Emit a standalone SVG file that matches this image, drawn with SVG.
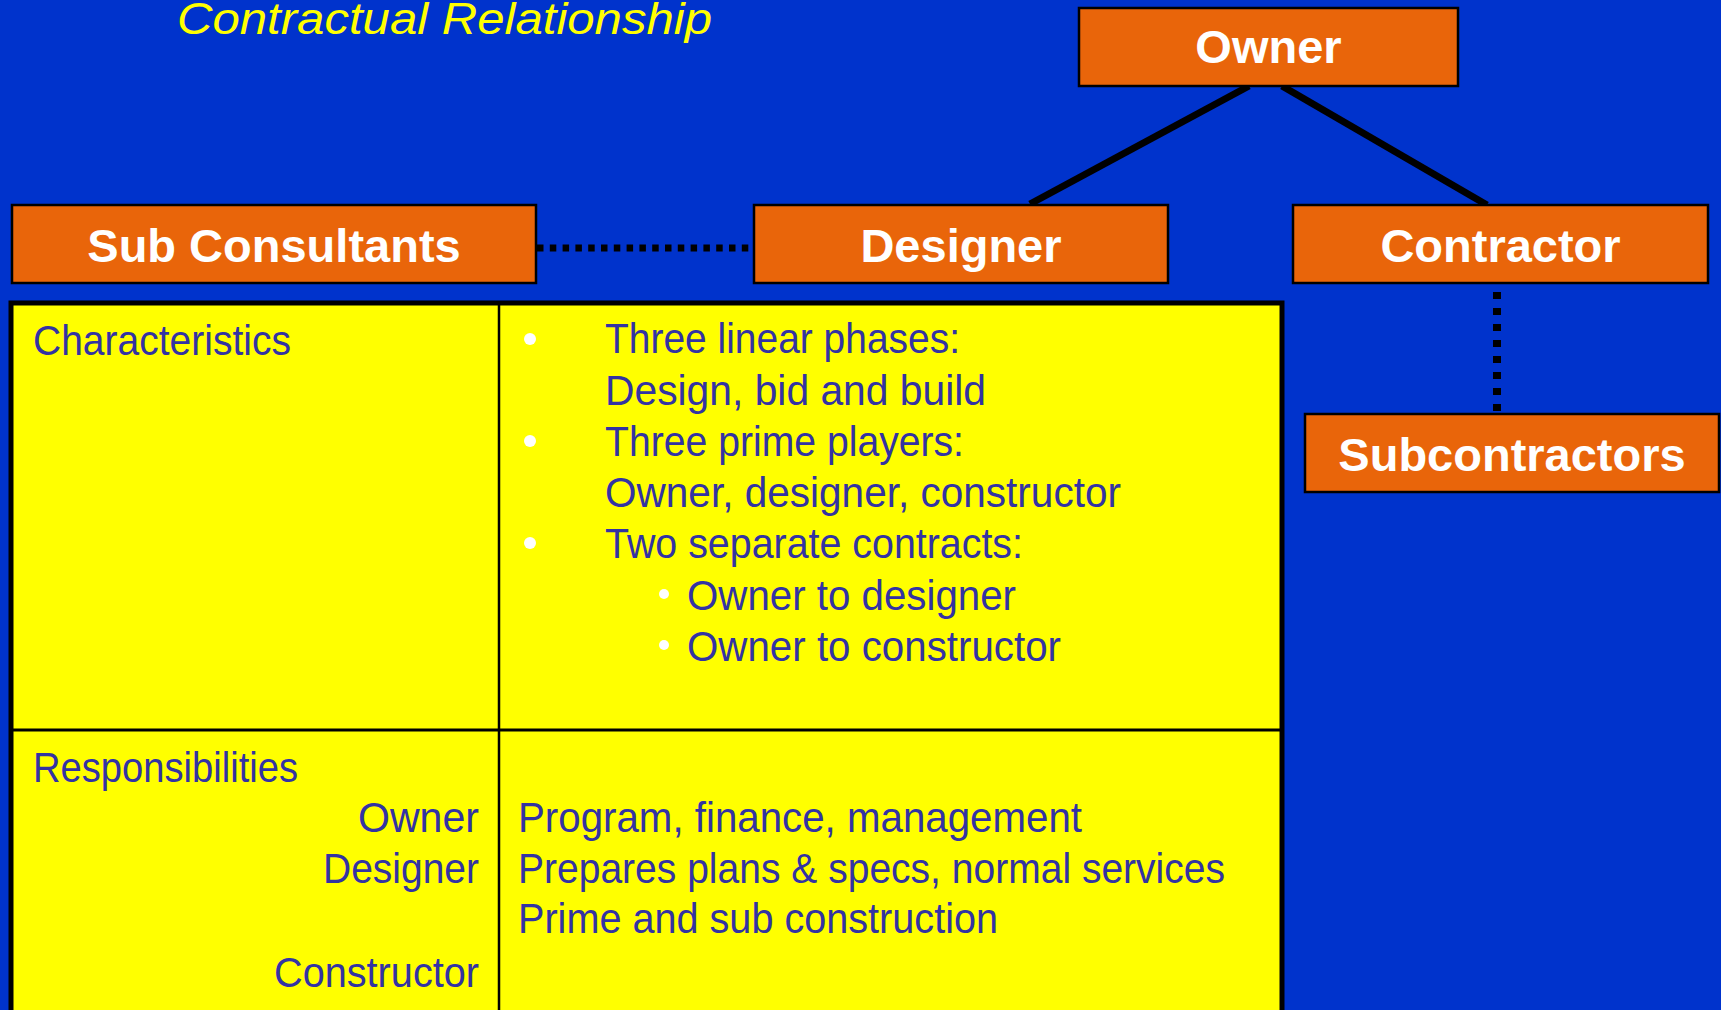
<svg xmlns="http://www.w3.org/2000/svg" width="1721" height="1010" viewBox="0 0 1721 1010">
<style>
.box{fill:#e9650a;stroke:#000;stroke-width:2.5}
.bt{font-family:"Liberation Sans",Arial,sans-serif;font-weight:bold;font-size:47px;fill:#fff;text-anchor:middle}
.tt{font-family:"Liberation Sans",Arial,sans-serif;font-size:42px;fill:#3333a3}
.solid{stroke:#000;stroke-width:7;fill:none}
.dot{stroke:#000;fill:none}
.bul{fill:#fff}
</style>
<rect x="0" y="0" width="1721" height="1010" fill="#0033cc"/>
<text x="177" y="34" font-family="'Liberation Sans',Arial,sans-serif" font-style="italic" font-size="44" fill="#ffff00" textLength="535" lengthAdjust="spacingAndGlyphs">Contractual Relationship</text>

<g id="connectors">
<line class="solid" x1="1249" y1="86" x2="1030" y2="204"/>
<line class="solid" x1="1282" y1="86" x2="1487" y2="205"/>
<line class="dot" x1="537" y1="248" x2="754" y2="248" stroke-width="7" stroke-dasharray="6.5 6.3"/>
<line class="dot" x1="1497" y1="292" x2="1497" y2="413" stroke-width="8" stroke-dasharray="7 9"/>
</g>

<g id="owner">
<rect class="box" x="1079" y="8" width="379" height="78"/>
<text class="bt" x="1268.5" y="63">Owner</text>
</g>
<g id="subconsultants">
<rect class="box" x="12" y="205" width="524" height="78"/>
<text class="bt" x="274" y="262">Sub Consultants</text>
</g>
<g id="designer">
<rect class="box" x="754" y="205" width="414" height="78"/>
<text class="bt" x="961" y="262">Designer</text>
</g>
<g id="contractor">
<rect class="box" x="1293" y="205" width="415" height="78"/>
<text class="bt" x="1500.5" y="262">Contractor</text>
</g>
<g id="subcontractors">
<rect class="box" x="1305" y="414" width="414" height="78"/>
<text class="bt" x="1512" y="471">Subcontractors</text>
</g>

<g id="table">
<rect x="11" y="303" width="1271" height="730" fill="#ffff00" stroke="#000" stroke-width="5"/>
<line x1="499" y1="303" x2="499" y2="1010" stroke="#000" stroke-width="2.5"/>
<line x1="11" y1="730" x2="1282" y2="730" stroke="#000" stroke-width="3"/>
<text class="tt" x="33" y="355" textLength="258" lengthAdjust="spacingAndGlyphs">Characteristics</text>
<circle class="bul" cx="530" cy="339" r="6"/>
<circle class="bul" cx="530" cy="441" r="6"/>
<circle class="bul" cx="530" cy="543" r="6"/>
<circle class="bul" cx="664" cy="594" r="5"/>
<circle class="bul" cx="664" cy="645" r="5"/>
<text class="tt" x="605" y="353" textLength="355" lengthAdjust="spacingAndGlyphs">Three linear phases:</text>
<text class="tt" x="605" y="405" textLength="381" lengthAdjust="spacingAndGlyphs">Design, bid and build</text>
<text class="tt" x="605" y="456" textLength="359" lengthAdjust="spacingAndGlyphs">Three prime players:</text>
<text class="tt" x="605" y="507" textLength="516" lengthAdjust="spacingAndGlyphs">Owner, designer, constructor</text>
<text class="tt" x="605" y="558" textLength="418" lengthAdjust="spacingAndGlyphs">Two separate contracts:</text>
<text class="tt" x="687" y="610" textLength="329" lengthAdjust="spacingAndGlyphs">Owner to designer</text>
<text class="tt" x="687" y="661" textLength="374" lengthAdjust="spacingAndGlyphs">Owner to constructor</text>
<text class="tt" x="33" y="782" textLength="265" lengthAdjust="spacingAndGlyphs">Responsibilities</text>
<text class="tt" x="358" y="832" textLength="121" lengthAdjust="spacingAndGlyphs">Owner</text>
<text class="tt" x="323" y="883" textLength="156" lengthAdjust="spacingAndGlyphs">Designer</text>
<text class="tt" x="274" y="987" textLength="205" lengthAdjust="spacingAndGlyphs">Constructor</text>
<text class="tt" x="518" y="832" textLength="564" lengthAdjust="spacingAndGlyphs">Program, finance, management</text>
<text class="tt" x="518" y="883" textLength="707" lengthAdjust="spacingAndGlyphs">Prepares plans &amp; specs, normal services</text>
<text class="tt" x="518" y="933" textLength="480" lengthAdjust="spacingAndGlyphs">Prime and sub construction</text>
</g>
</svg>
